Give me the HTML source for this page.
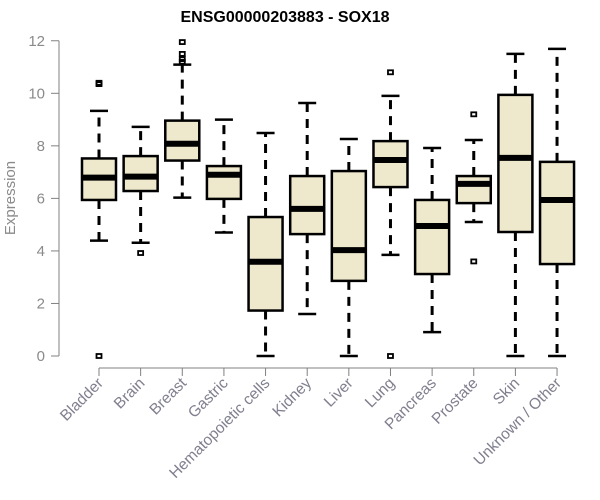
<!DOCTYPE html>
<html><head><meta charset="utf-8"><style>
body{margin:0;background:#fff}
svg{display:block;font-family:"Liberation Sans",Arial,sans-serif}
</style></head><body>
<svg id="chart" width="600" height="500">
<text x="285" y="22" text-anchor="middle" font-size="16" font-weight="bold">ENSG00000203883 - SOX18</text>
<text transform="translate(15,198) rotate(-90)" text-anchor="middle" font-size="15" fill="#8a8a8a">Expression</text>
<g id="yaxis"></g>
<g id="xaxis"></g>
<g id="boxes"></g>
</svg>
<script>
const categories=["Bladder","Brain","Breast","Gastric","Hematopoietic cells","Kidney","Liver","Lung","Pancreas","Prostate","Skin","Unknown / Other"];
const whiskerLow=[4.39,4.31,6.03,4.7,0,1.6,0,3.85,0.91,5.1,0,0];
const q1=[5.94,6.28,7.44,5.98,1.73,4.64,2.86,6.43,3.12,5.82,4.72,3.5];
const medians=[6.79,6.83,8.08,6.9,3.59,5.6,4.03,7.46,4.95,6.55,7.54,5.94];
const q3=[7.52,7.61,8.96,7.23,5.29,6.85,7.04,8.18,5.94,6.85,9.94,7.39];
const whiskerHigh=[9.33,8.72,11.09,9.0,8.49,9.63,8.26,9.9,7.92,8.22,11.5,11.69];
const outliers=[[10.4,10.35,0],[3.92],[11.95,11.5,11.3,11.2],[],[],[],[],[10.8,0],[],[9.2,3.6],[],[]];
const yTicks=[0,2,4,6,8,10,12];
const NS="http://www.w3.org/2000/svg";
const y=v=>356-v*26.27;
const x=i=>99+i*41.64;
function mk(tag,attrs,parent){const e=document.createElementNS(NS,tag);for(const k in attrs)e.setAttribute(k,attrs[k]);parent.appendChild(e);return e;}
const ya=document.getElementById('yaxis'),xa=document.getElementById('xaxis'),bx=document.getElementById('boxes');
const gc="#808080";
mk('line',{x1:59,x2:59,y1:y(0),y2:y(12),stroke:gc},ya);
yTicks.forEach(t=>{
 const l=mk('line',{x1:51,x2:59,y1:y(t),y2:y(t),stroke:gc},ya);
 
 
 const tx=mk('text',{x:45,y:y(t)+5,'text-anchor':'end','font-size':15,fill:'#8a8a8a'},ya);
 
 
 tx.textContent=t;
});
mk('line',{x1:x(0),x2:x(categories.length-1),y1:368,y2:368,stroke:gc},xa);
categories.forEach((c,i)=>{
 const l=mk('line',{x1:x(i),x2:x(i),y1:368,y2:376,stroke:gc},xa);
 
 
 const tx=mk('text',{transform:`translate(${x(i)+5},${384}) rotate(-45)`,'text-anchor':'end','font-size':15.5,fill:'#7f7f8f'},xa);
 
 
 tx.textContent=c;
 const g=mk('g',{},bx);
 
 
 const cx=x(i),hw=17;
 mk('line',{x1:cx,x2:cx,y1:y(q3[i]),y2:y(whiskerHigh[i]),stroke:'#000','stroke-width':3,'stroke-dasharray':'9,7'},g);
 mk('line',{x1:cx,x2:cx,y1:y(q1[i]),y2:y(whiskerLow[i]),stroke:'#000','stroke-width':3,'stroke-dasharray':'9,7'},g);
 mk('line',{x1:cx-9,x2:cx+9,y1:y(whiskerHigh[i]),y2:y(whiskerHigh[i]),stroke:'#000','stroke-width':2.5},g);
 mk('line',{x1:cx-9,x2:cx+9,y1:y(whiskerLow[i]),y2:y(whiskerLow[i]),stroke:'#000','stroke-width':2.5},g);
 mk('rect',{x:cx-hw,y:y(q3[i]),width:hw*2,height:y(q1[i])-y(q3[i]),fill:'#eee8cc',stroke:'#000','stroke-width':2.5},g);
 mk('line',{x1:cx-hw,x2:cx+hw,y1:y(medians[i]),y2:y(medians[i]),stroke:'#000','stroke-width':6},g);
 outliers[i].forEach(o=>{mk('rect',{x:cx-2.5,y:y(o)-2,width:5,height:4,fill:'none',stroke:'#000','stroke-width':1.8},g);});
});
</script>
</body></html>
